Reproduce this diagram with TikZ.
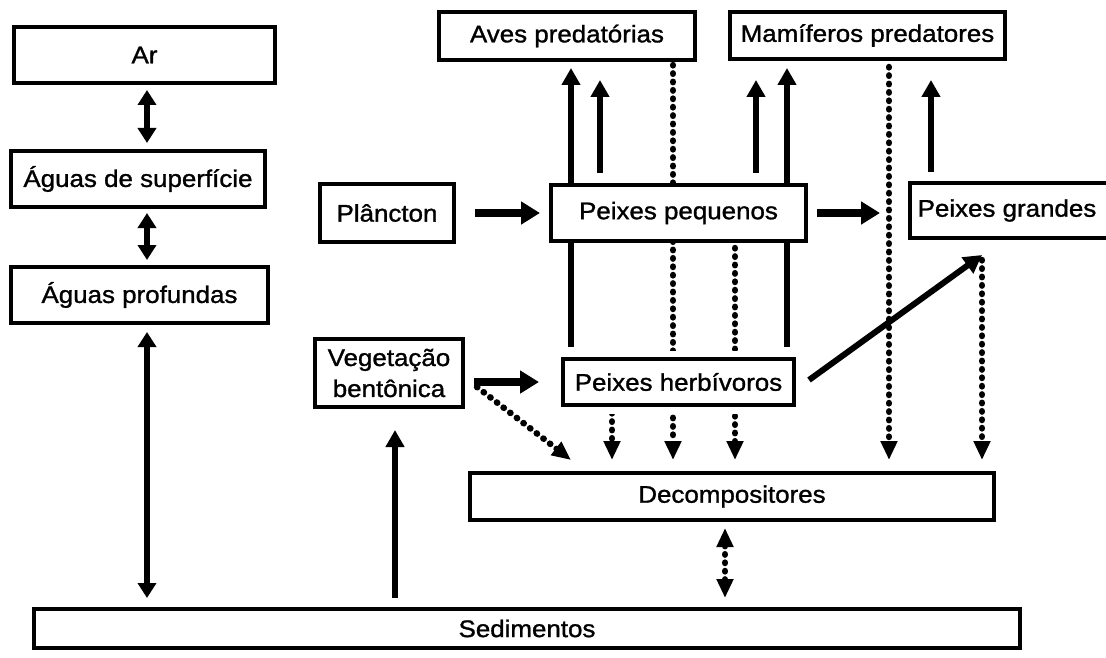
\documentclass[tikz,border=0pt]{standalone}
\usepackage{fontspec}
\setmainfont{Liberation Sans}[FakeStretch=1.08,FakeBold=1.2]
\usetikzlibrary{arrows.meta,calc}
\pgfdeclarelayer{bg}
\pgfsetlayers{bg,main}
\tikzset{
  box/.style={draw, line width=4pt, fill=white, inner sep=0pt, align=center,
    font=\fontsize{24}{31}\selectfont},
  halo/.style={preaction={draw=white, line width=17pt}},
  solidarr/.style={line width=5.5pt, -{Triangle[length=17pt,width=18pt]}},
  dblarr/.style={line width=5.5pt, {Triangle[length=15pt,width=18pt]}-{Triangle[length=15pt,width=18pt]}},
  fatarr/.style={line width=8pt, -{Triangle[length=19pt,width=22pt]}},
  diagarr/.style={line width=6pt, -{Triangle[length=18pt,width=19pt]}},
  dotline/.style={line width=6.5pt, line cap=round, dash pattern=on 0.4pt off 8pt},
  dotarr/.style={dotline, -{Triangle[length=19pt,width=16pt]}},
  dotdbl/.style={dotline, {Triangle[length=19pt,width=16pt]}-{Triangle[length=19pt,width=16pt]}},
}
\begin{document}
\begin{tikzpicture}[x=1pt,y=-1pt]
\useasboundingbox (0,0) rectangle (1106,658);

% nodes
\node[box, minimum width=261pt, minimum height=56pt] (ar) at (144.5,55) {Ar};
\node[box, minimum width=254pt, minimum height=56pt] (sup) at (138,179) {Águas de superfície};
\node[box, minimum width=257pt, minimum height=56pt] (prof) at (139.5,295) {Águas profundas};
\node[box, minimum width=256pt, minimum height=48pt] (aves) at (567,36) {Aves predatórias};
\node[box, minimum width=275pt, minimum height=47pt] (mam) at (867.5,35.5) {Mamíferos predatores};
\node[box, minimum width=134pt, minimum height=58pt] (plan) at (387,213) {Plâncton};
\node[box, minimum width=255pt, minimum height=56pt] (pp) at (678.5,213) {Peixes pequenos};
\node[box, minimum width=200pt, minimum height=55pt] (pg) at (1010,210.5) {Peixes grandes\hspace*{6pt}};
\node[box, minimum width=148pt, minimum height=68pt] (veg) at (389,373) {Vegetação\\bentônica};
\node[box, halo, minimum width=231pt, minimum height=46pt] (herb) at (678.5,382) {Peixes herbívoros};
\node[box, minimum width=524pt, minimum height=47pt] (dec) at (732,496.5) {Decompositores};
\node[box, minimum width=986pt, minimum height=39pt] (sed) at (527,628.5) {Sedimentos};

% columns
\foreach \c in {147,395,571,600,612,673,725,735,756,787,889,931,982}
  \coordinate (x\c) at (\c,0);

\begin{pgfonlayer}{bg}
\fill[white] (0,0) rectangle (1106,658);
% left column
\draw[dblarr, shorten <=5pt, shorten >=6pt] (ar.south -| x147) -- (sup.north -| x147);
\draw[dblarr, shorten <=4pt, shorten >=5pt] (sup.south -| x147) -- (prof.north -| x147);
\draw[dblarr, shorten <=7pt, shorten >=9pt] (prof.south -| x147) -- (sed.north -| x147);
\draw[solidarr, shorten <=9pt, shorten >=21pt] (sed.north -| x395) -- (veg.south -| x395);

% horizontal flows
\draw[fatarr, shorten <=19pt, shorten >=9pt] (plan.east) -- (pp.west);
\draw[fatarr, shorten <=9pt, shorten >=28pt] (pp.east) -- (pp.east -| pg.west);
\draw[fatarr, shorten <=9pt, shorten >=22pt] (veg.east |- herb.west) -- (herb.west);
\draw[dotarr] ([shift={(12,14)}]veg.east) -- ([shift={(103,-11)}]dec.north west);

% upward to predators
\draw[solidarr, shorten <=10pt, shorten >=6pt] (herb.north -| x571) -- (aves.south -| x571);
\draw[solidarr, shorten <=10pt, shorten >=18pt] (pp.north -| x600) -- (aves.south -| x600);
\draw[solidarr, shorten <=10pt, shorten >=19pt] (pp.north -| x756) -- (mam.south -| x756);
\draw[solidarr, shorten <=10pt, shorten >=7pt] (herb.north -| x787) -- (mam.south -| x787);
\draw[solidarr, shorten <=9pt, shorten >=19pt] (pg.north -| x931) -- (mam.south -| x931);
\draw[diagarr] ([shift={(13,-2)}]herb.east) -- ([shift={(-28,15)}]pg.south);

% downward to decomposers
\draw[dotarr, shorten <=3pt, shorten >=11pt] (aves.south -| x673) -- (dec.north -| x673);
\draw[dotarr, shorten <=5pt, shorten >=11pt] (pp.south -| x735) -- (dec.north -| x735);
\draw[dotarr, shorten <=6pt, shorten >=11pt] (herb.south -| x612) -- (dec.north -| x612);
\draw[dotarr, shorten <=6pt, shorten >=11pt] (mam.south -| x889) -- (dec.north -| x889);
\draw[dotarr, shorten <=20pt, shorten >=11pt] (pg.south -| x982) -- (dec.north -| x982);
\draw[dotdbl, shorten <=6pt, shorten >=9pt] (dec.south -| x725) -- (sed.north -| x725);
\end{pgfonlayer}
\end{tikzpicture}
\end{document}
